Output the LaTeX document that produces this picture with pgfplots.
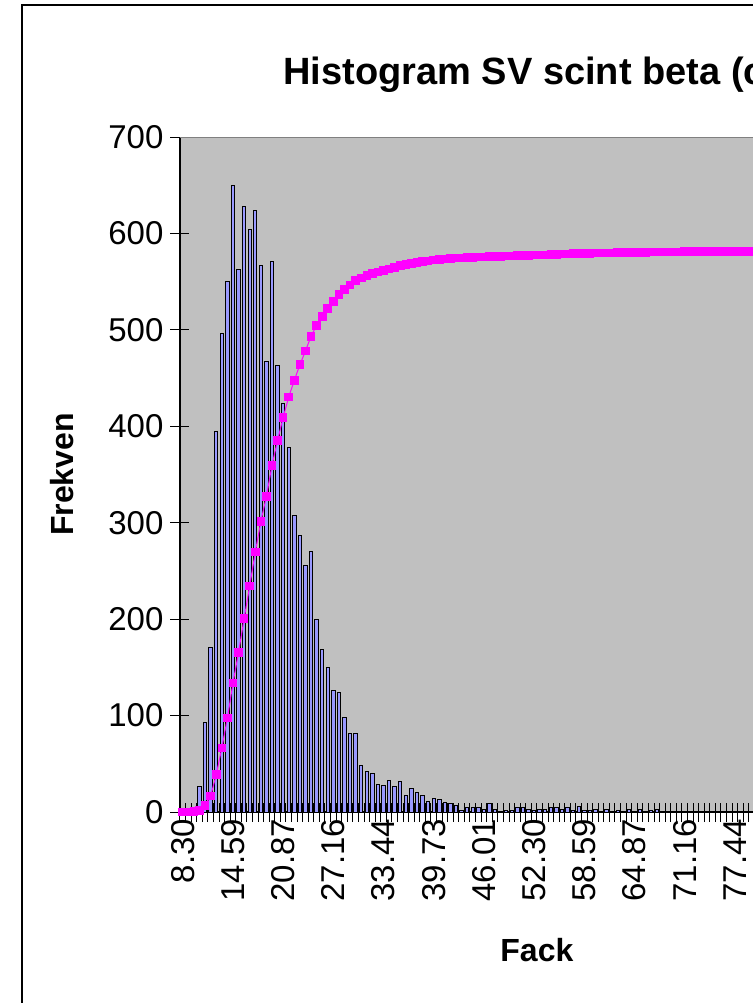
\documentclass[border=0pt]{standalone}
\usepackage{fontspec}
\setmainfont{Liberation Sans}
\usepackage{pgfplots}
\usepackage{pgfplotstable}
\pgfplotsset{compat=1.18}
\definecolor{plotgrey}{HTML}{C0C0C0}
\definecolor{barblue}{HTML}{9999FF}
\definecolor{cummag}{HTML}{FF00FF}

% bin index (0 = 8.30, bin width ~0.698) and count
\pgfplotstableread{
x y
0 0
1 1
2 4
3 26
4 93
5 171
6 395
7 496
8 550
9 650
10 563
11 628
12 604
13 624
14 567
15 467
16 571
17 463
18 424
19 378
20 307
21 287
22 256
23 270
24 200
25 169
26 150
27 126
28 124
29 98
30 81
31 81
32 48
33 42
34 40
35 29
36 27
37 33
38 26
39 32
40 17
41 24
42 20
43 17
44 11
45 14
46 13
47 10
48 9
49 7
50 2
51 5
52 5
53 5
54 3
55 9
56 3
57 1
58 2
59 2
60 5
61 5
62 3
63 2
64 3
65 3
66 5
67 5
68 3
69 5
70 2
71 6
72 2
73 2
74 3
75 1
76 3
77 1
78 2
79 1
80 3
81 1
82 3
83 1
84 2
85 3
86 0
87 0
88 1
89 1
90 1
91 0
92 0
93 1
94 1
95 1
96 1
97 1
98 1
99 0
100 0
101 1
102 1
}\freq

% cumulative percent (secondary axis 0-120 %)
\pgfplotstableread{
x c
0 0
1 0.01
2 0.05
3 0.30
4 1.19
5 2.84
6 6.63
7 11.40
8 16.69
9 22.94
10 28.36
11 34.39
12 40.20
13 46.20
14 51.65
15 56.14
16 61.63
17 66.09
18 70.16
19 73.80
20 76.75
21 79.51
22 81.97
23 84.57
24 86.49
25 88.12
26 89.56
27 90.77
28 91.96
29 92.90
30 93.68
31 94.46
32 94.92
33 95.33
34 95.71
35 95.99
36 96.25
37 96.57
38 96.82
39 97.13
40 97.29
41 97.52
42 97.71
43 97.88
44 97.98
45 98.12
46 98.24
47 98.34
48 98.42
49 98.49
50 98.51
51 98.56
52 98.61
53 98.65
54 98.68
55 98.77
56 98.80
57 98.81
58 98.83
59 98.85
60 98.89
61 98.94
62 98.97
63 98.99
64 99.02
65 99.05
66 99.10
67 99.14
68 99.17
69 99.22
70 99.24
71 99.30
72 99.32
73 99.34
74 99.37
75 99.38
76 99.40
77 99.41
78 99.43
79 99.44
80 99.47
81 99.48
82 99.51
83 99.52
84 99.54
85 99.57
86 99.57
87 99.57
88 99.58
89 99.59
90 99.60
91 99.60
92 99.60
93 99.61
94 99.62
95 99.63
96 99.63
97 99.64
98 99.65
99 99.65
100 99.65
101 99.66
102 99.67
}\cum

\begin{document}
\begin{tikzpicture}
\useasboundingbox (0pt,0pt) rectangle (376.5pt,-501.5pt);
\fill[white] (0pt,0pt) rectangle (376.5pt,-501.5pt);
\draw[line width=1pt] (11pt,-600pt) -- (11pt,-2.5pt) -- (600pt,-2.5pt);
\node[anchor=base west, inner sep=0pt, font=\bfseries\fontsize{19}{22}\selectfont]
  at (141.5pt,-42pt) {Histogram SV scint beta (c};

\begin{axis}[
  at={(90pt,-406pt)}, anchor=south west,
  scale only axis, width=356.9pt, height=337.5pt,
  xmin=-0.5, xmax=127.5, ymin=0, ymax=700,
  axis x line*=bottom, axis y line*=left,
  axis line style={black, line width=0.6pt},
  axis background/.style={fill=plotgrey},
  /pgf/number format/assume math mode=true,
  tick label style={font=\fontsize{16.5}{18}\selectfont},
  tick align=center, major tick length=9.5pt,
  tick style={black, line width=0.5pt},
  ytick={0,100,...,700},
  xtick={-0.5,0.5,...,127.5}, xticklabels={},
  extra x ticks={0,9,...,99},
  extra x tick labels={8.30,14.59,20.87,27.16,33.44,39.73,46.01,52.30,58.59,64.87,71.16,77.44},
  extra x tick style={major tick length=0pt, xticklabel style={rotate=90, anchor=east}},
  xlabel={Fack}, ylabel={Frekven},
  xlabel style={at={(axis description cs:0.5,-0.2044)}, anchor=center, font=\bfseries\fontsize{16}{18}\selectfont},
  ylabel style={at={(axis description cs:-0.1653,0.5)}, anchor=center, rotate=0, font=\bfseries\fontsize{16}{18}\selectfont},
]
\addplot[ybar, bar width=1.7pt, fill=barblue, draw=black, line width=0.5pt] table[x=x,y=y] {\freq};
\draw[gray, line width=0.5pt] (rel axis cs:0,1) -- (rel axis cs:1,1);
\end{axis}

\begin{axis}[
  at={(90pt,-406pt)}, anchor=south west,
  scale only axis, width=356.9pt, height=337.5pt,
  xmin=-0.5, xmax=127.5, ymin=0, ymax=120,
  hide axis, clip=false,
]
\addplot[color=cummag, line width=0.5pt, mark=square*, mark size=1.9pt,
  mark options={fill=cummag, draw=cummag}] table[x=x,y=c] {\cum};
\end{axis}
\end{tikzpicture}
\end{document}
